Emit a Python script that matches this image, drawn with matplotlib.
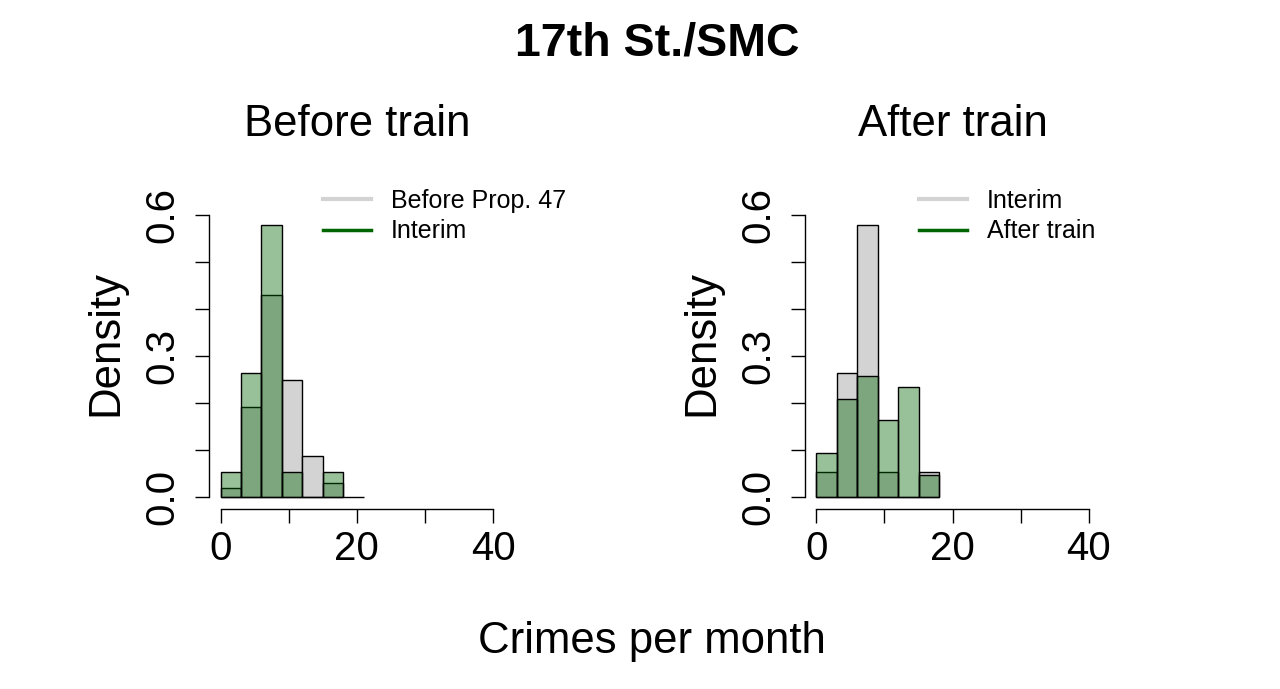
#import numpy and matplotlib
import numpy as np
import matplotlib.pyplot as plt
from matplotlib.colors import to_rgba
from matplotlib.lines import Line2D

plt.rcParams['font.family'] = ['Liberation Sans', 'DejaVu Sans']

#histogram bins (crimes per month) and densities
bin_edges = [0, 3, 6, 9, 12, 15, 18, 21]
before_prop47 = [0.019, 0.190, 0.429, 0.248, 0.086, 0.029, 0.0]
interim = [0.053, 0.263, 0.579, 0.053, 0.0, 0.053]
after_train = [0.093, 0.209, 0.256, 0.163, 0.233, 0.047]

panels = [
    ('Before train', before_prop47, interim, 'Before Prop. 47', 'Interim'),
    ('After train', interim, after_train, 'Interim', 'After train'),
]

grey = 'lightgrey'
green = to_rgba('darkgreen', 0.4)

fig = plt.figure(figsize=(12.8, 6.89), dpi=100)

#axes boxes in figure fractions
ax_left = [209.3 / 1280, 805.1 / 1280]
ax_w = 295.1 / 1280
ax_b = 1 - 509 / 689
ax_h = 333 / 689

for i, (title, back, front, lab_back, lab_front) in enumerate(panels):
    ax = fig.add_axes([ax_left[i], ax_b, ax_w, ax_h])

    #grey histogram first, then the transparent green one on top
    edges = np.array(bin_edges)
    ax.bar(edges[:len(back)], back, width=np.diff(edges)[:len(back)], align='edge',
           facecolor=grey, edgecolor='black', linewidth=1.0)
    ax.bar(edges[:len(front)], front, width=np.diff(edges)[:len(front)], align='edge',
           facecolor=green, edgecolor='black', linewidth=1.0)

    ax.set_xlim(-1.65, 41.65)
    ax.set_ylim(-0.0262, 0.683)

    #R style axes
    for s in ['top', 'right']:
        ax.spines[s].set_visible(False)
    ax.spines['left'].set_bounds(0, 0.6)
    ax.spines['bottom'].set_bounds(0, 40)
    ax.spines['left'].set_linewidth(1.0)
    ax.spines['bottom'].set_linewidth(1.0)

    ax.set_xticks([0, 10, 20, 30, 40])
    ax.set_xticklabels(['0', '', '20', '', '40'])
    ax.set_yticks([0, 0.1, 0.2, 0.3, 0.4, 0.5, 0.6])
    ax.set_yticklabels(['0.0', '', '', '0.3', '', '', '0.6'], rotation=90, va='center')
    ax.tick_params(axis='x', length=10, width=1.0, labelsize=29, pad=5)
    ax.tick_params(axis='y', length=10, width=1.0, labelsize=29, pad=10)

    ax.set_ylabel('Density', fontsize=31.5)
    ax.yaxis.set_label_coords(-0.282, 0.5)

    ax.text(0.5, 1.12, title, transform=ax.transAxes, ha='center', va='baseline',
            fontsize=31.5)

    handles = [Line2D([], [], color=grey, lw=3),
               Line2D([], [], color='darkgreen', lw=2.5)]
    ax.legend(handles, [lab_back, lab_front], loc='upper left',
              bbox_to_anchor=(0.386, 0.961), frameon=False, fontsize=18,
              borderpad=0, borderaxespad=0, handlelength=1.9,
              handletextpad=0.8, labelspacing=0.26)

fig.text(657 / 1280, 1 - 55 / 689, '17th St./SMC', ha='center', va='baseline',
         fontsize=33.5, fontweight='bold')
fig.text(652 / 1280, 1 - 653 / 689, 'Crimes per month', ha='center', va='baseline',
         fontsize=31.5)

plt.savefig('out.png', dpi=100)
